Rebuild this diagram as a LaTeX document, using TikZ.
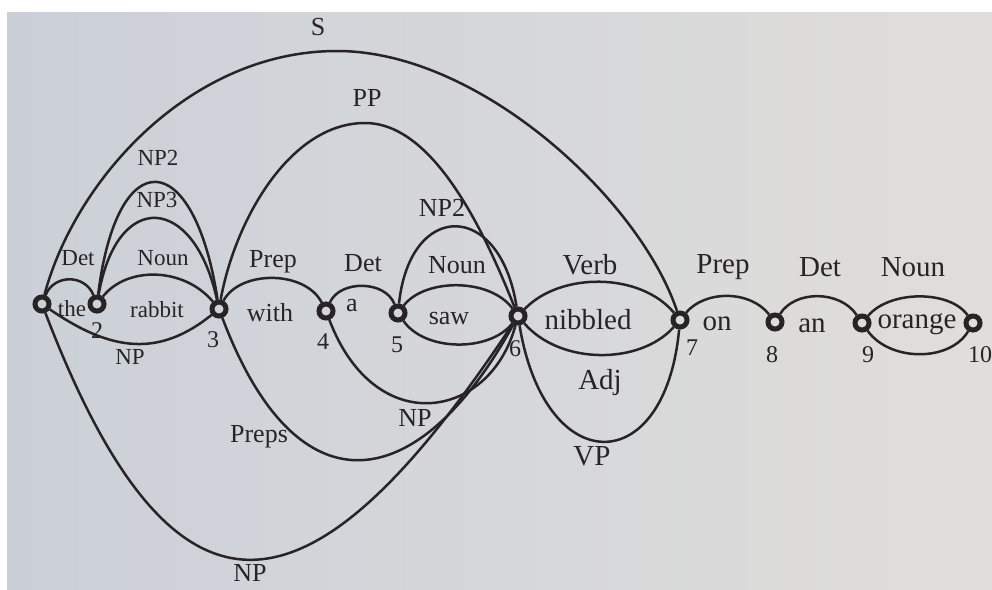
\documentclass[tikz,border=0pt]{standalone}
\usepackage{fontspec}
\setmainfont{Liberation Serif}
\usetikzlibrary{backgrounds}
\definecolor{pageink}{RGB}{40,36,38}
\definecolor{pageleft}{RGB}{203,208,216}
\definecolor{pageright}{RGB}{224,222,219}

\begin{document}
\begin{tikzpicture}[
    x=1pt, y=-1pt,
    vertex/.style={circle, draw=pageink, line width=5pt, minimum size=14pt, inner sep=0pt},
    chartarc/.style={draw=pageink, line width=2.5pt},
    lbl/.style={text=pageink, inner sep=0pt, font=\fontsize{26}{29}\selectfont},
    smlbl/.style={lbl, font=\fontsize{23}{26}\selectfont},
    lglbl/.style={lbl, font=\fontsize{29}{32}\selectfont},
    numlbl/.style={lbl, font=\fontsize{24}{27}\selectfont}
]
\useasboundingbox (0,0) rectangle (992,589);
\begin{scope}[on background layer]
  \fill[white] (0,0) rectangle (992,589);
  \shade[left color=pageleft, right color=pageright] (7,12) rectangle (992,589);
\end{scope}

% Chart vertices
\node[vertex] (c1) at (42,304) {};
\node[vertex] (c2) at (97,304) {};
\node[vertex] (c3) at (219,309) {};
\node[vertex] (c4) at (326,311) {};
\node[vertex] (c5) at (398,313) {};
\node[vertex] (c6) at (518,316) {};
\node[vertex] (c7) at (680,320) {};
\node[vertex] (c8) at (775,322) {};
\node[vertex] (c9) at (862,323) {};
\node[vertex] (c10) at (973,323) {};

% Word edges (above) and their categories
\draw[chartarc] (c1) .. controls (54,274) and (85,274) .. (c2);
\draw[chartarc] (c2) .. controls (127,266) and (184,267) .. (c3);
\draw[chartarc] (c3) .. controls (240,270) and (305,270) .. (c4);
\draw[chartarc] (c4) .. controls (340,280) and (385,280) .. (c5);
\draw[chartarc] (c5) .. controls (425,278) and (490,278) .. (c6);
\draw[chartarc] (c5) .. controls (425,352) and (490,352) .. (c6);
\draw[chartarc] (c6) .. controls (560,272) and (640,272) .. (c7);
\draw[chartarc] (c6) .. controls (560,365) and (640,365) .. (c7);
\draw[chartarc] (c7) .. controls (705,290) and (750,290) .. (c8);
\draw[chartarc] (c8) .. controls (795,290) and (840,290) .. (c9);
\draw[chartarc] (c9) .. controls (890,290) and (950,290) .. (c10);
\draw[chartarc] (c9) .. controls (890,362) and (950,362) .. (c10);

% Phrase edges above the line
\draw[chartarc] (c2) .. controls (117,189) and (194,194) .. (c3);
\draw[chartarc] (c2) .. controls (117,141) and (194,146) .. (c3);
\draw[chartarc] (c5) .. controls (410,200) and (500,200) .. (c6);
\draw[chartarc] (c3) .. controls (235,220) and (290,123) .. (365,123)
  .. controls (430,123) and (480,220) .. (c6);
\draw[chartarc] (c1) .. controls (75,180) and (190,51) .. (337,51)
  .. controls (480,51) and (640,200) .. (c7);

% Phrase edges below the line
\draw[chartarc] (c1) .. controls (112,352) and (159,357) .. (c3);
\draw[chartarc] (c4) .. controls (375,440) and (490,420) .. (c6);
\draw[chartarc] (c3) .. controls (298,518) and (420,495) .. (c6);
\draw[chartarc] (c1) .. controls (180,665) and (320,615) .. (c6);
\draw[chartarc] (c6) .. controls (545,480) and (665,480) .. (c7);

% Categories
\node[lbl] (tS) at (318,27) {S};
\node[lbl] (tPP) at (367,98) {PP};
\node[smlbl] (tNPtwo) at (158,158) {NP2};
\node[smlbl] (tNPthree) at (157,200) {NP3};
\node[lbl] (tNPtwoB) at (442,208) {NP2};
\node[smlbl] (tDetA) at (78,258) {Det};
\node[smlbl] (tNounA) at (163,258) {Noun};
\node[lbl] (tPrepA) at (273,262) {Prep};
\node[lbl] (tDetB) at (363,263) {Det};
\node[lbl] (tNounB) at (457,265) {Noun};
\node[lglbl] (tVerb) at (590,265) {Verb};
\node[lglbl] (tPrepB) at (723,267) {Prep};
\node[lglbl] (tDetC) at (820,267) {Det};
\node[lglbl] (tNounC) at (913,267) {Noun};
\node[smlbl] (tNPa) at (130,357) {NP};
\node[lglbl] (tAdj) at (600,383) {Adj};
\node[lbl] (tNPb) at (415,418) {NP};
\node[lbl] (tPreps) at (259,437) {Preps};
\node[lglbl] (tVP) at (592,456) {VP};
\node[lbl] (tNPc) at (250,573) {NP};

% Words
\node[smlbl] (wThe) at (72,309) {the};
\node[smlbl] (wRabbit) at (157,310) {rabbit};
\node[lbl] (wWith) at (270,313) {with};
\node[lbl] (wA) at (352,306) {a};
\node[lbl] (wSaw) at (449,318) {saw};
\node[lglbl] (wNibbled) at (588,320) {nibbled};
\node[lglbl] (wOn) at (717,324) {on};
\node[lglbl] (wAn) at (812,326) {an};
\node[lglbl] (wOrange) at (917,324) {orange};

% Vertex numbers
\node[numlbl] (k2) at (97,331) {2};
\node[numlbl] (k3) at (213,340) {3};
\node[numlbl] (k4) at (323,342) {4};
\node[numlbl] (k5) at (397,345) {5};
\node[numlbl] (k6) at (515,349) {6};
\node[numlbl] (k7) at (692,348) {7};
\node[numlbl] (k8) at (772,355) {8};
\node[numlbl] (k9) at (868,355) {9};
\node[numlbl] (k10) at (980,355) {10};
\end{tikzpicture}
\end{document}
